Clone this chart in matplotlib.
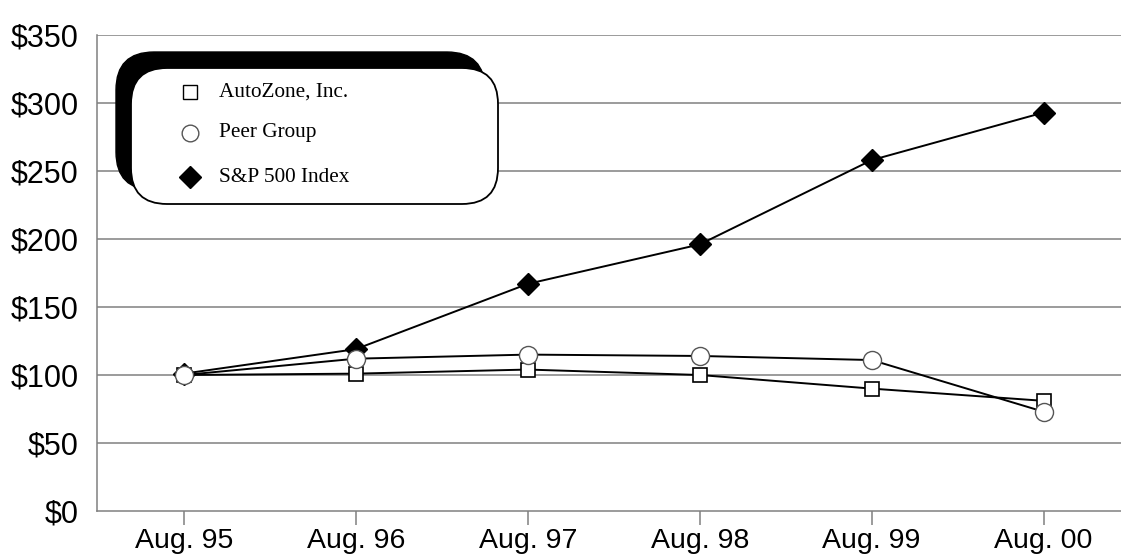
import matplotlib.pyplot as plt
from matplotlib.patches import FancyBboxPatch
from matplotlib.lines import Line2D
from matplotlib.transforms import Affine2D

# values (cumulative return, $100 base)
years = ['Aug. 95', 'Aug. 96', 'Aug. 97', 'Aug. 98', 'Aug. 99', 'Aug. 00']
autozone = [100, 101, 104, 100, 90, 81]
peer_group = [100, 112, 115, 114, 111, 73]
sp500 = [101, 119, 167, 196, 258, 293]
y_ticks = [0, 50, 100, 150, 200, 250, 300, 350]

W, H = 1121, 555
fig = plt.figure(figsize=(W / 100, H / 100), dpi=100)
ax = fig.add_axes([97 / W, 1 - 511 / H, (W - 97) / W, (511 - 35) / H])

x = list(range(len(years)))
ax.plot(x, sp500, color='black', lw=1.4, marker='D', ms=11.5,
        mfc='black', mec='black', zorder=3)
ax.plot(x, autozone, color='black', lw=1.4, marker='s', ms=10.5,
        mfc='white', mec='black', mew=1.2, zorder=4)
ax.plot(x, peer_group, color='black', lw=1.4, marker='o', ms=13,
        mfc='white', mec='#555555', mew=1.0, zorder=5)

ax.set_xlim(-0.505, 5.45)
ax.set_ylim(0, 350)
ax.set_yticks(y_ticks)
ax.set_yticklabels(['$' + str(v) for v in y_ticks])
ax.set_xticks(x)
ax.set_xticklabels(years)

for v in y_ticks[1:]:
    ax.axhline(v, color='#808080', lw=1.1, zorder=1)

for s in ['top', 'right']:
    ax.spines[s].set_visible(False)
for s in ['left', 'bottom']:
    ax.spines[s].set_color('#808080')
    ax.spines[s].set_linewidth(1.1)

ax.tick_params(axis='y', length=0, pad=13, labelsize=22)
ax.tick_params(axis='x', length=10, color='#808080', width=1.1, pad=2, labelsize=20.5)
for lab in ax.get_xticklabels() + ax.get_yticklabels():
    lab.set_fontfamily('Liberation Sans')

# legend box with black shadow up-left, drawn in image pixel coords (y down)
pix = Affine2D().scale(1 / 100, -1 / 100).translate(0, H / 100) + fig.dpi_scale_trans

shadow = FancyBboxPatch((116, 52), 485 - 116, 190 - 52,
                        boxstyle='round,pad=0,rounding_size=38',
                        transform=pix, fc='black', ec='black', zorder=10)
box = FancyBboxPatch((131, 68), 498 - 131, 204 - 68,
                     boxstyle='round,pad=0,rounding_size=36',
                     transform=pix, fc='white', ec='black', lw=1.3, zorder=11)
fig.add_artist(shadow)
fig.add_artist(box)

entries = [('AutoZone, Inc.', 's', 'white', 92, 10.5),
           ('Peer Group', 'o', 'white', 133, 12),
           ('S&P 500 Index', 'D', 'black', 177, 11)]
for label, m, fc, yp, ms in entries:
    fig.add_artist(Line2D([190], [yp], marker=m, ms=ms, mfc=fc,
                          mec='black' if m != 'o' else '#555555',
                          transform=pix, zorder=12))
    fig.text(219, yp, label, fontsize=15.3, family='Liberation Serif',
             va='center', ha='left', zorder=12, transform=pix)

fig.savefig('out.png', dpi=100)
